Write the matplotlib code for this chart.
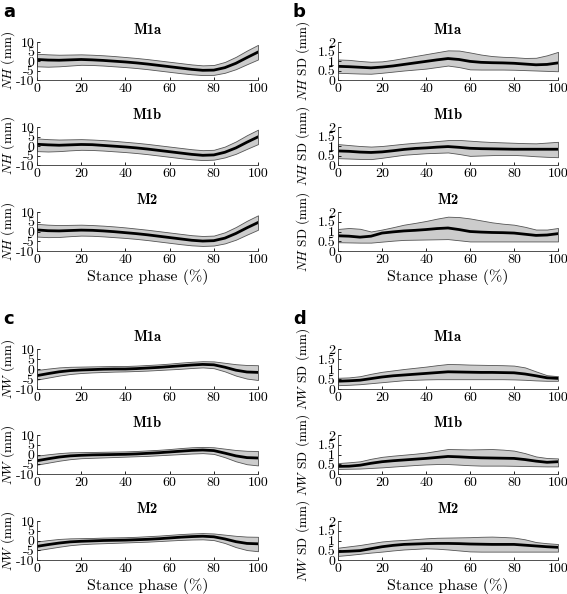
import numpy as np
import matplotlib
matplotlib.use("Agg")
import matplotlib.pyplot as plt

plt.rcParams['font.family'] = 'cmr10'
plt.rcParams['mathtext.fontset'] = 'cm'
plt.rcParams['axes.unicode_minus'] = False
plt.rcParams['axes.formatter.use_mathtext'] = False

# Stance phase sample points (%)
phase = [0, 5, 10, 15, 20, 25, 30, 35, 40, 45, 50, 55, 60, 65, 70, 75, 80, 85, 90, 95, 100]
markers = ['M1a', 'M1b', 'M2']

# Panel a: NH mean with band
nh_mean = {
    'M1a': [0.8, 0.5, 0.4, 0.6, 0.8, 0.6, 0.3, -0.1, -0.5, -1.0, -1.6, -2.3, -3.0, -3.7, -4.4, -4.9, -4.8, -3.5, -1.2, 1.8, 4.7],
    'M1b': [0.9, 0.6, 0.4, 0.6, 0.8, 0.7, 0.3, -0.1, -0.5, -1.0, -1.6, -2.3, -3.0, -3.7, -4.4, -4.9, -4.7, -3.3, -1.0, 2.0, 4.8],
    'M2':  [0.8, 0.4, 0.3, 0.5, 0.7, 0.6, 0.3, -0.1, -0.6, -1.1, -1.7, -2.4, -3.1, -3.8, -4.5, -4.9, -4.7, -3.4, -1.0, 1.9, 4.6],
}
nh_hi = {
    'M1a': [3.8, 3.5, 3.3, 3.4, 3.5, 3.3, 3.0, 2.6, 2.1, 1.6, 1.0, 0.3, -0.4, -1.1, -1.8, -2.3, -2.1, -0.5, 2.2, 5.5, 8.5],
    'M1b': [4.0, 3.6, 3.4, 3.5, 3.6, 3.4, 3.1, 2.7, 2.2, 1.7, 1.1, 0.4, -0.3, -1.0, -1.7, -2.2, -2.0, -0.3, 2.4, 5.7, 8.6],
    'M2':  [3.9, 3.5, 3.3, 3.4, 3.5, 3.3, 3.0, 2.6, 2.1, 1.5, 0.9, 0.2, -0.5, -1.2, -1.9, -2.3, -2.1, -0.4, 2.3, 5.5, 8.3],
}
nh_lo = {
    'M1a': [-2.8, -3.0, -2.8, -2.4, -2.0, -2.1, -2.4, -2.8, -3.2, -3.7, -4.3, -5.0, -5.7, -6.4, -7.0, -7.4, -7.3, -6.2, -4.3, -1.7, 0.8],
    'M1b': [-2.7, -2.9, -2.7, -2.3, -2.0, -2.1, -2.4, -2.8, -3.2, -3.7, -4.3, -5.0, -5.7, -6.4, -7.0, -7.4, -7.2, -6.0, -4.1, -1.5, 1.0],
    'M2':  [-2.6, -2.9, -2.8, -2.4, -2.1, -2.2, -2.5, -2.9, -3.3, -3.8, -4.4, -5.1, -5.8, -6.5, -7.1, -7.4, -7.2, -6.1, -4.2, -1.6, 0.9],
}

# Panel b: NH SD with band
nhsd_mean = {
    'M1a': [0.72, 0.70, 0.67, 0.64, 0.68, 0.74, 0.82, 0.90, 0.98, 1.06, 1.13, 1.08, 0.98, 0.93, 0.91, 0.90, 0.88, 0.84, 0.80, 0.82, 0.90],
    'M1b': [0.74, 0.72, 0.68, 0.66, 0.69, 0.75, 0.82, 0.87, 0.90, 0.94, 0.97, 0.93, 0.88, 0.86, 0.85, 0.84, 0.83, 0.83, 0.83, 0.83, 0.83],
    'M2':  [0.78, 0.76, 0.71, 0.76, 0.92, 0.98, 1.03, 1.06, 1.10, 1.15, 1.18, 1.10, 1.00, 0.97, 0.95, 0.94, 0.92, 0.86, 0.80, 0.82, 0.89],
}
nhsd_hi = {
    'M1a': [1.08, 1.06, 1.00, 0.96, 0.98, 1.06, 1.16, 1.26, 1.36, 1.46, 1.56, 1.55, 1.45, 1.34, 1.26, 1.22, 1.20, 1.16, 1.17, 1.30, 1.48],
    'M1b': [1.10, 1.05, 1.00, 0.97, 1.00, 1.06, 1.12, 1.17, 1.21, 1.26, 1.31, 1.32, 1.28, 1.24, 1.21, 1.19, 1.17, 1.15, 1.14, 1.18, 1.22],
    'M2':  [1.13, 1.18, 1.14, 1.00, 1.10, 1.22, 1.35, 1.44, 1.54, 1.66, 1.76, 1.74, 1.67, 1.57, 1.47, 1.40, 1.35, 1.24, 1.10, 1.10, 1.18],
}
nhsd_lo = {
    'M1a': [0.38, 0.36, 0.34, 0.33, 0.38, 0.44, 0.50, 0.55, 0.60, 0.68, 0.76, 0.68, 0.56, 0.55, 0.55, 0.55, 0.54, 0.52, 0.50, 0.48, 0.46],
    'M1b': [0.36, 0.34, 0.32, 0.31, 0.38, 0.46, 0.54, 0.58, 0.62, 0.64, 0.66, 0.58, 0.48, 0.50, 0.52, 0.53, 0.53, 0.50, 0.46, 0.43, 0.41],
    'M2':  [0.45, 0.44, 0.43, 0.43, 0.48, 0.53, 0.57, 0.58, 0.59, 0.60, 0.61, 0.55, 0.49, 0.49, 0.49, 0.49, 0.49, 0.49, 0.49, 0.49, 0.49],
}

# Panel c: NW mean with band
nw_mean = {
    'M1a': [-3.3, -2.3, -1.4, -0.8, -0.5, -0.3, -0.1, 0.0, 0.0, 0.2, 0.5, 0.8, 1.2, 1.6, 2.0, 2.3, 2.1, 0.9, -0.6, -1.5, -1.7],
    'M1b': [-3.2, -2.2, -1.3, -0.7, -0.4, -0.2, -0.1, 0.0, 0.1, 0.3, 0.6, 0.9, 1.3, 1.7, 2.1, 2.3, 2.0, 0.7, -0.7, -1.6, -1.8],
    'M2':  [-3.0, -2.1, -1.3, -0.7, -0.4, -0.2, 0.0, 0.1, 0.2, 0.4, 0.6, 0.9, 1.3, 1.7, 2.0, 2.2, 1.9, 0.8, -0.6, -1.5, -1.7],
}
nw_hi = {
    'M1a': [-0.5, 0.2, 0.8, 1.1, 1.2, 1.3, 1.4, 1.5, 1.5, 1.7, 2.0, 2.3, 2.7, 3.2, 3.6, 3.9, 3.8, 3.1, 2.4, 2.0, 1.9],
    'M1b': [-0.6, 0.1, 0.7, 1.1, 1.2, 1.3, 1.4, 1.5, 1.6, 1.8, 2.1, 2.4, 2.8, 3.3, 3.7, 3.9, 3.7, 3.0, 2.3, 1.9, 1.8],
    'M2':  [-0.5, 0.2, 0.8, 1.1, 1.2, 1.3, 1.5, 1.6, 1.7, 1.9, 2.2, 2.5, 2.9, 3.3, 3.6, 3.8, 3.6, 3.0, 2.4, 2.0, 1.9],
}
nw_lo = {
    'M1a': [-5.3, -4.3, -3.3, -2.5, -2.0, -1.7, -1.5, -1.3, -1.2, -1.0, -0.8, -0.5, -0.2, 0.1, 0.5, 0.8, 0.4, -1.2, -3.3, -4.8, -5.5],
    'M1b': [-5.2, -4.2, -3.2, -2.4, -1.9, -1.7, -1.5, -1.3, -1.1, -0.9, -0.7, -0.4, -0.1, 0.2, 0.5, 0.7, 0.3, -1.4, -3.5, -5.0, -5.6],
    'M2':  [-5.0, -4.1, -3.2, -2.4, -1.9, -1.6, -1.4, -1.2, -1.0, -0.8, -0.6, -0.3, 0.0, 0.3, 0.5, 0.6, 0.2, -1.3, -3.4, -4.9, -5.5],
}

# Panel d: NW SD with band
nwsd_mean = {
    'M1a': [0.39, 0.41, 0.44, 0.52, 0.60, 0.66, 0.70, 0.74, 0.78, 0.82, 0.86, 0.85, 0.84, 0.83, 0.83, 0.82, 0.81, 0.75, 0.66, 0.56, 0.53],
    'M1b': [0.39, 0.40, 0.45, 0.55, 0.63, 0.68, 0.72, 0.76, 0.80, 0.85, 0.90, 0.88, 0.85, 0.83, 0.82, 0.81, 0.80, 0.74, 0.66, 0.60, 0.63],
    'M2':  [0.43, 0.45, 0.48, 0.58, 0.68, 0.75, 0.80, 0.82, 0.84, 0.85, 0.85, 0.84, 0.82, 0.81, 0.80, 0.80, 0.80, 0.76, 0.72, 0.68, 0.65],
}
nwsd_hi = {
    'M1a': [0.56, 0.58, 0.64, 0.76, 0.86, 0.93, 1.00, 1.06, 1.12, 1.19, 1.25, 1.24, 1.22, 1.21, 1.20, 1.19, 1.17, 1.08, 0.88, 0.69, 0.64],
    'M1b': [0.56, 0.60, 0.65, 0.78, 0.88, 0.94, 0.99, 1.04, 1.10, 1.19, 1.28, 1.27, 1.26, 1.27, 1.28, 1.25, 1.20, 1.07, 0.90, 0.82, 0.80],
    'M2':  [0.63, 0.70, 0.77, 0.86, 0.95, 1.00, 1.03, 1.07, 1.11, 1.14, 1.15, 1.16, 1.17, 1.19, 1.20, 1.18, 1.15, 1.06, 0.92, 0.86, 0.82],
}
nwsd_lo = {
    'M1a': [0.19, 0.21, 0.24, 0.29, 0.34, 0.39, 0.44, 0.46, 0.48, 0.49, 0.49, 0.49, 0.49, 0.49, 0.49, 0.49, 0.48, 0.46, 0.43, 0.41, 0.41],
    'M1b': [0.26, 0.27, 0.28, 0.31, 0.34, 0.38, 0.42, 0.46, 0.49, 0.51, 0.51, 0.48, 0.45, 0.43, 0.43, 0.43, 0.42, 0.41, 0.40, 0.39, 0.39],
    'M2':  [0.21, 0.26, 0.32, 0.38, 0.43, 0.49, 0.54, 0.57, 0.60, 0.58, 0.54, 0.49, 0.44, 0.43, 0.43, 0.43, 0.43, 0.43, 0.43, 0.43, 0.43],
}

fig = plt.figure(figsize=(5.67, 5.94), dpi=100)
W, H = 567.0, 594.0


def add_axes(x0, x1, y_top, y_bot):
    return fig.add_axes([x0 / W, 1 - y_bot / H, (x1 - x0) / W, (y_bot - y_top) / H])


def draw_panel(ax, mean, lo, hi, title, ylim, yticks, yticklabels, ylabel, label_x, xlabel):
    ax.fill_between(phase, lo, hi, facecolor='#cccccc', edgecolor='#555555', linewidth=0.6, zorder=1)
    ax.plot(phase, mean, color='black', linewidth=2.0, zorder=2)
    ax.set_xlim(0, 100)
    ax.set_ylim(*ylim)
    ax.set_xticks([0, 20, 40, 60, 80, 100])
    ax.set_yticks(yticks)
    ax.set_yticklabels(yticklabels)
    ax.spines['top'].set_visible(False)
    ax.spines['right'].set_visible(False)
    for s in ['left', 'bottom']:
        ax.spines[s].set_linewidth(0.6)
        ax.spines[s].set_color('#333333')
    ax.tick_params(direction='in', length=2.5, width=0.6, labelsize=10, pad=2)
    ax.set_title(title, fontfamily='cmb10', fontsize=10.5, pad=6)
    ax.set_ylabel(ylabel, fontsize=9.5)
    # label_x is where the right edge of the rotated label sits
    ax.yaxis.set_label_coords(label_x, 0.5)
    if xlabel:
        ax.set_xlabel('Stance phase (%)', fontsize=11.5, labelpad=2)


rows_top = [(42, 80), (127, 165), (212, 251)]
rows_bot = [(349, 389), (435, 474), (521, 560)]
left_x = (37, 258)
right_x = (338, 558)

mm_ticks = [-10, -5, 0, 5, 10]
mm_labels = ['-10', '-5', '0', '5', '10']
sd_ticks = [0, 0.5, 1, 1.5, 2]
sd_labels = ['0', '0.5', '1', '1.5', '2']

# ylabel right edges in axes fraction
left_lab = (17 - left_x[0]) / (left_x[1] - left_x[0])
right_lab = (312 - right_x[0]) / (right_x[1] - right_x[0])

for i, m in enumerate(markers):
    last = i == len(markers) - 1
    ax = add_axes(left_x[0], left_x[1], *rows_top[i])
    draw_panel(ax, nh_mean[m], nh_lo[m], nh_hi[m], m, (-10, 10), mm_ticks, mm_labels,
               r'$NH$ (mm)', left_lab, last)
    ax = add_axes(right_x[0], right_x[1], *rows_top[i])
    draw_panel(ax, nhsd_mean[m], nhsd_lo[m], nhsd_hi[m], m, (0, 2), sd_ticks, sd_labels,
               r'$NH$ SD (mm)', right_lab, last)
    ax = add_axes(left_x[0], left_x[1], *rows_bot[i])
    draw_panel(ax, nw_mean[m], nw_lo[m], nw_hi[m], m, (-10, 10), mm_ticks, mm_labels,
               r'$NW$ (mm)', left_lab, last)
    ax = add_axes(right_x[0], right_x[1], *rows_bot[i])
    draw_panel(ax, nwsd_mean[m], nwsd_lo[m], nwsd_hi[m], m, (0, 2), sd_ticks, sd_labels,
               r'$NW$ SD (mm)', right_lab, last)

for letter, (px, py) in zip('abcd', [(3, 3), (293, 3), (3, 310), (293, 310)]):
    fig.text(px / W, 1 - py / H, letter, fontfamily='DejaVu Sans', fontweight='bold',
             fontsize=13, va='top', ha='left')

fig.savefig('out.png', dpi=100)
